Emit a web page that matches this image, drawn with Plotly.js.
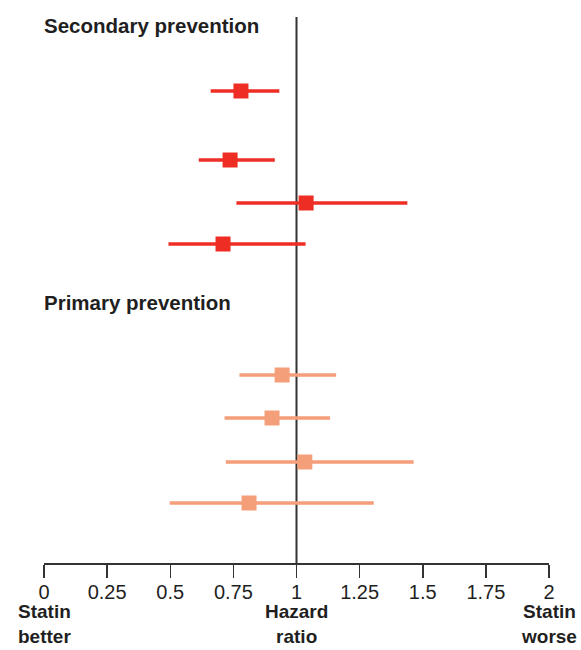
<!DOCTYPE html>
<html>
<head>
<meta charset="utf-8">
<script src="https://cdn.plot.ly/plotly-3.0.1.min.js"></script>
<style>html,body{margin:0;padding:0;background:#fff;}#chart{width:581px;height:650px;}</style>
</head>
<body>
<div id="chart"></div>
<script>
// Hazard ratios with confidence intervals
const secHR = [0.780, 0.737, 1.038, 0.709];
const secLo = [0.660, 0.613, 0.762, 0.493];
const secHi = [0.932, 0.914, 1.439, 1.036];
const primHR = [0.943, 0.903, 1.033, 0.812];
const primLo = [0.774, 0.715, 0.720, 0.498];
const primHi = [1.157, 1.133, 1.464, 1.306];
// row positions on the vertical (row) axis
const secRows = [7.4, 14.3, 18.6, 22.7];
const primRows = [35.8, 40.1, 44.5, 48.6];
const groupTitles = ["Secondary prevention", "Primary prevention"];
const groupTitleRows = [0.8, 28.5];
const tickVals = [0, 0.25, 0.5, 0.75, 1, 1.25, 1.5, 1.75, 2];
const tickText = ["0", "0.25", "0.5", "0.75", "1", "1.25", "1.5", "1.75", "2"];
const bottomLabels = ["Statin<br>better", "Hazard<br>ratio", "Statin<br>worse"];
const bottomLabelX = [0, 1, 2];

const FONT = "Liberation Sans, Arial, sans-serif";
const TXT = "#1f1f1f";

function trace(hr, lo, hi, rows, color) {
  return {
    type: "scatter", mode: "markers",
    x: hr, y: rows,
    marker: {symbol: "square", size: 15, color: color},
    error_x: {type: "data", symmetric: false,
      array: hr.map((v, i) => hi[i] - v),
      arrayminus: hr.map((v, i) => v - lo[i]),
      color: color, thickness: 3.5, width: 0},
    hoverinfo: "x", showlegend: false, cliponaxis: false
  };
}

const data = [
  trace(secHR, secLo, secHi, secRows, "#EE2E24"),
  trace(primHR, primLo, primHi, primRows, "#F49E7A")
];

const annotations = [];
groupTitles.forEach((t, i) => annotations.push({
  text: t, xref: "paper", x: 0, xanchor: "left", yref: "y", y: groupTitleRows[i], yanchor: "middle",
  xshift: -1, borderpad: 0,
  showarrow: false, font: {family: FONT, size: 20.5, color: TXT, weight: "bold"}
}));
bottomLabels.forEach((t, i) => annotations.push({
  text: t, xref: "x", x: bottomLabelX[i], xanchor: "center", yref: "paper", y: -0.1117, yanchor: "middle",
  showarrow: false, borderpad: 0, align: "center",
  font: {family: FONT, size: 19, color: TXT, weight: "bold"}
}));

const layout = {
  width: 581, height: 650,
  margin: {l: 44, r: 32, t: 17, b: 87},
  paper_bgcolor: "#fff", plot_bgcolor: "#fff",
  xaxis: {range: [0, 2], tickvals: tickVals, ticktext: tickText,
    showgrid: false, zeroline: false, showline: true, linecolor: "#333", linewidth: 1.5,
    ticks: "outside", ticklen: 13, tickwidth: 1.5, tickcolor: "#333", ticklabelstandoff: -3,
    tickfont: {family: FONT, size: 20, color: TXT}, fixedrange: true},
  yaxis: {range: [54.6, 0], visible: false, showgrid: false, zeroline: false, fixedrange: true},
  shapes: [{type: "line", xref: "x", x0: 1, x1: 1, yref: "paper", y0: 0, y1: 1,
    line: {color: "#333", width: 2}, layer: "below"}],
  annotations: annotations
};

Plotly.newPlot("chart", data, layout, {staticPlot: true, displayModeBar: false});
</script>
</body>
</html>
